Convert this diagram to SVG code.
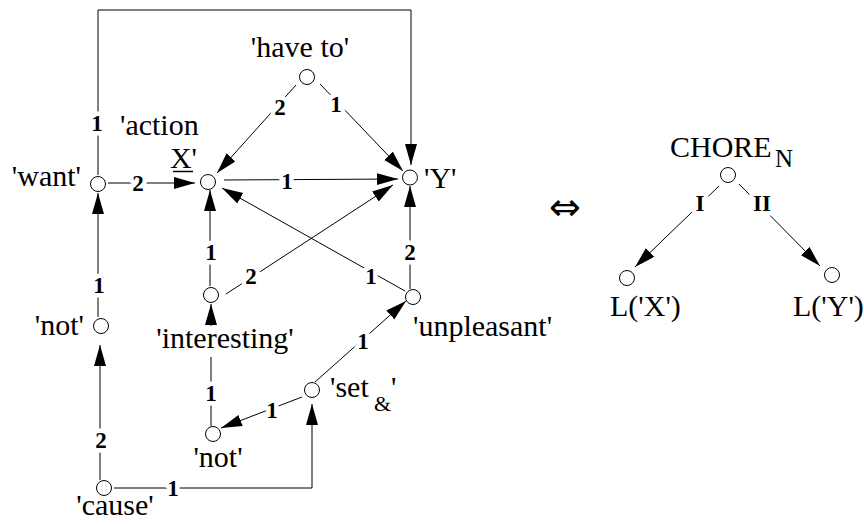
<svg xmlns="http://www.w3.org/2000/svg" width="864" height="524" viewBox="0 0 864 524">
<style>
.n{fill:#fff;stroke:#000;stroke-width:1}
.e{fill:none;stroke:#000;stroke-width:1}
.t{font-family:"Liberation Serif","Times New Roman",serif;font-size:30px;fill:#000}
.l{font-family:"Liberation Serif","Times New Roman",serif;font-size:23px;font-weight:bold;fill:#000;text-anchor:middle;stroke:#fff;stroke-width:9;paint-order:stroke;stroke-linejoin:round}
</style>
<defs>
<marker id="ah" markerUnits="userSpaceOnUse" markerWidth="23" markerHeight="13" refX="21" refY="6" orient="auto"><path d="M0,0 L21,6 L0,12 z" fill="#000"/></marker>
</defs>
<rect width="864" height="524" fill="#fff"/>
<g id="connectors">
<path class="e" d="M98,175 V10 H411 V165" marker-end="url(#ah)"/>
<path class="e" d="M296,85 L217,173" marker-end="url(#ah)"/>
<path class="e" d="M320,84 L403,171" marker-end="url(#ah)"/>
<path class="e" d="M108,183 L195,183" marker-end="url(#ah)"/>
<path class="e" d="M224,180 L398,179" marker-end="url(#ah)"/>
<path class="e" d="M210,286 L210,190" marker-end="url(#ah)"/>
<path class="e" d="M226,294 L393,185" marker-end="url(#ah)"/>
<path class="e" d="M405,291 L222,188" marker-end="url(#ah)"/>
<path class="e" d="M410,289 L410,186" marker-end="url(#ah)"/>
<path class="e" d="M98,317 L98,193" marker-end="url(#ah)"/>
<path class="e" d="M315,382 L406,301" marker-end="url(#ah)"/>
<path class="e" d="M211,426 L211,357"/>
<path class="e" d="M211,326 L211,304" marker-end="url(#ah)"/>
<path class="e" d="M302,397 L221,428" marker-end="url(#ah)"/>
<path class="e" d="M100,480 L100,345" marker-end="url(#ah)"/>
<path class="e" d="M114,488 H312 V404" marker-end="url(#ah)"/>
<path class="e" d="M719,186 L635,267" marker-end="url(#ah)"/>
<path class="e" d="M739,184 L820,266" marker-end="url(#ah)"/>
<text class="l" x="97" y="131">1</text>
<text class="l" x="280" y="115">2</text>
<text class="l" x="336" y="112">1</text>
<text class="l" x="138" y="191">2</text>
<text class="l" x="287" y="189">1</text>
<text class="l" x="211" y="260">1</text>
<text class="l" x="251" y="284">2</text>
<text class="l" x="371" y="284">1</text>
<text class="l" x="410" y="260">2</text>
<text class="l" x="99" y="293">1</text>
<text class="l" x="363" y="349">1</text>
<text class="l" x="211" y="401">1</text>
<text class="l" x="272" y="418">1</text>
<text class="l" x="101" y="448">2</text>
<text class="l" x="173" y="496">1</text>
<text class="l" x="700" y="211">I</text>
<text class="l" x="762" y="211">II</text>
</g>
<g id="have-to"><circle class="n" cx="307" cy="77" r="7.5"/><text class="t" x="300" y="57" text-anchor="middle">'have to'</text></g>
<g id="action-x"><circle class="n" cx="208" cy="182" r="7.5"/><text class="t" x="120" y="135">'action</text><text class="t" x="197" y="168" text-anchor="end">X'</text><line x1="173" y1="171.5" x2="193" y2="171.5" stroke="#000" stroke-width="1.5"/></g>
<g id="y"><circle class="n" cx="410" cy="177.5" r="7.5"/><text class="t" x="424" y="188">'Y'</text></g>
<g id="want"><circle class="n" cx="98" cy="184" r="7.5"/><text class="t" x="81" y="186" text-anchor="end">'want'</text></g>
<g id="interesting"><circle class="n" cx="211" cy="295" r="7.5"/><text class="t" x="225" y="348" text-anchor="middle">'interesting'</text></g>
<g id="unpleasant"><circle class="n" cx="413" cy="297" r="7.5"/><text class="t" x="413" y="336">'unpleasant'</text></g>
<g id="not-left"><circle class="n" cx="101" cy="326" r="7.5"/><text class="t" x="84" y="335" text-anchor="end">'not'</text></g>
<g id="set"><circle class="n" cx="312" cy="390" r="7.5"/><text class="t" x="330" y="397">'set<tspan x="374" dy="14" font-size="22">&amp;</tspan><tspan x="391" dy="-14">'</tspan></text></g>
<g id="not-bottom"><circle class="n" cx="213" cy="434" r="7.5"/><text class="t" x="218" y="467" text-anchor="middle">'not'</text></g>
<g id="cause"><circle class="n" cx="104" cy="488" r="7.5"/><text class="t" x="115" y="515" text-anchor="middle">'cause'</text></g>
<g id="equiv"><text x="565" y="220" text-anchor="middle" font-family="DejaVu Sans, sans-serif" font-size="38">⇔</text></g>
<g id="chore"><circle class="n" cx="728" cy="175" r="7.5"/><text class="t" x="670" y="157">CHORE<tspan x="775" dy="10" font-size="25">N</tspan></text></g>
<g id="lx"><circle class="n" cx="627" cy="278" r="7.5"/><text class="t" x="610" y="316">L('X')</text></g>
<g id="ly"><circle class="n" cx="832" cy="275" r="7.5"/><text class="t" x="793" y="316">L('Y')</text></g>
</svg>
